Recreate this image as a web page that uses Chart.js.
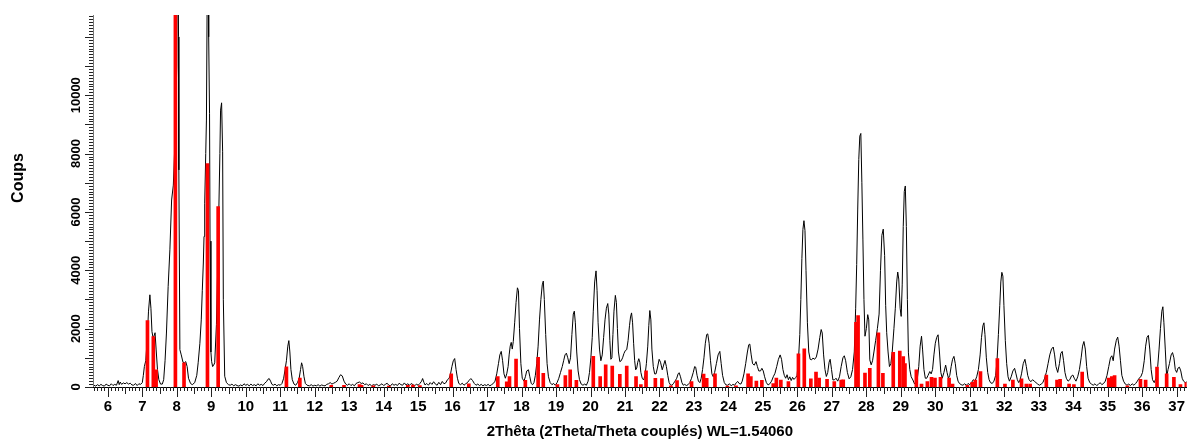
<!DOCTYPE html>
<html>
<head>
<meta charset="utf-8">
<script src="https://cdn.jsdelivr.net/npm/chart.js@4.4.0/dist/chart.umd.min.js"></script>
<style>
  html, body { margin: 0; padding: 0; background: #fff; }
  #wrap { width: 1188px; height: 443px; }
</style>
</head>
<body>
<div id="wrap"><canvas id="xrd"></canvas></div>
<script>
// measured pattern: [2theta, counts]
const traceData = [
  [5.60,60],[5.65,30],[5.70,80],[5.75,40],[5.80,90],[5.85,50],[5.90,30],[5.95,100],[6.00,60],[6.05,40],
  [6.10,110],[6.15,50],[6.20,90],[6.25,60],[6.30,220],[6.33,80],[6.36,170],[6.40,90],[6.45,140],[6.50,110],
  [6.55,150],[6.60,100],[6.65,130],[6.70,70],[6.75,60],[6.80,120],[6.85,50],[6.90,110],[6.95,90],
  [7.00,150],[7.03,400],[7.06,700],[7.10,900],[7.14,1600],[7.18,2600],[7.22,3160],[7.25,2700],[7.28,1900],
  [7.31,1700],[7.34,1750],[7.37,1860],[7.40,1300],[7.44,600],[7.48,250],[7.53,100],[7.58,100],[7.62,250],
  [7.66,900],[7.70,1850],[7.75,3450],[7.80,4700],[7.85,6410],[7.90,6920],[7.95,8500],[8.00,11000],
  [8.03,18000],[8.05,12000],[8.06,7440],[8.09,1280],[8.13,1100],[8.18,850],[8.22,830],[8.26,870],[8.30,700],
  [8.34,300],[8.40,120],[8.45,80],[8.52,150],[8.58,400],[8.62,830],[8.67,1500],[8.71,2300],[8.74,3300],
  [8.77,4250],[8.79,5160],[8.81,6300],[8.84,8000],[8.86,9150],[8.895,16000],[8.91,18000],[8.925,12000],
  [8.95,9380],[8.965,5000],[8.99,1200],[9.01,880],[9.04,700],[9.07,750],[9.10,830],[9.15,2140],[9.20,4810],
  [9.25,8000],[9.27,9490],[9.30,9740],[9.33,8060],[9.35,2990],[9.39,370],[9.44,150],
  [9.50,80],[9.55,60],[9.60,100],[9.65,40],[9.70,80],[9.75,50],[9.80,30],[9.85,70],[9.90,40],[9.95,110],
  [10.00,60],[10.05,90],[10.10,40],[10.15,100],[10.20,50],[10.25,80],[10.30,40],[10.35,110],[10.40,60],
  [10.45,90],[10.50,50],[10.55,130],[10.60,180],[10.65,270],[10.68,290],[10.72,200],[10.76,90],[10.80,60],
  [10.85,100],[10.90,40],[10.95,80],[11.00,60],[11.05,120],[11.10,300],[11.14,590],[11.18,900],[11.22,1400],
  [11.25,1590],[11.28,1200],[11.31,600],[11.35,250],[11.40,100],[11.45,60],[11.50,150],[11.55,300],
  [11.59,600],[11.62,830],[11.65,700],[11.69,350],[11.73,120],[11.78,60],[11.85,40],[11.90,80],[11.95,30],
  [12.00,60],[12.05,40],[12.10,80],[12.15,30],[12.20,70],[12.25,50],[12.30,40],[12.35,90],[12.40,110],
  [12.45,150],[12.50,100],[12.55,130],[12.60,160],[12.65,200],[12.70,320],[12.75,420],[12.80,380],
  [12.85,200],[12.90,100],[12.95,60],[13.00,110],[13.05,50],[13.10,90],[13.15,40],[13.20,120],[13.25,150],
  [13.30,170],[13.35,120],[13.40,140],[13.45,80],[13.50,110],[13.55,50],[13.60,90],[13.65,40],[13.70,80],
  [13.75,60],[13.80,100],[13.85,40],[13.90,70],[13.95,110],[14.00,50],[14.05,90],[14.10,130],[14.15,60],
  [14.20,40],[14.25,110],[14.30,60],[14.35,90],[14.40,50],[14.45,130],[14.50,80],[14.55,60],[14.60,140],
  [14.65,70],[14.70,110],[14.75,60],[14.80,120],[14.85,80],[14.90,40],[14.95,100],[15.00,60],[15.05,120],
  [15.10,200],[15.13,290],[15.17,150],[15.20,70],[15.25,120],[15.30,60],[15.35,150],[15.40,90],[15.45,180],
  [15.50,100],[15.55,60],[15.60,160],[15.65,80],[15.70,190],[15.75,110],[15.80,140],[15.85,250],[15.90,300],
  [15.94,450],[15.98,700],[16.02,900],[16.06,975],[16.10,600],[16.14,300],[16.18,120],[16.23,80],[16.28,130],
  [16.33,60],[16.38,110],[16.43,150],[16.48,230],[16.53,290],[16.58,220],[16.63,120],[16.68,60],[16.73,100],
  [16.78,50],[16.83,90],[16.88,40],[16.93,80],[16.98,50],[17.03,90],[17.08,40],[17.13,80],[17.18,120],
  [17.23,200],[17.28,450],[17.33,800],[17.37,1100],[17.41,1220],[17.45,900],[17.49,450],[17.53,300],
  [17.57,450],[17.61,700],[17.64,1100],[17.67,1400],[17.70,1530],[17.73,1300],[17.76,1560],[17.80,2200],
  [17.84,2900],[17.88,3400],[17.91,3300],[17.94,2000],[17.98,800],[18.02,300],[18.07,200],[18.11,350],
  [18.15,550],[18.20,590],[18.24,350],[18.28,120],[18.32,80],[18.36,150],[18.40,400],[18.44,800],
  [18.48,1400],[18.52,2300],[18.56,3000],[18.60,3500],[18.63,3630],[18.66,3000],[18.70,1800],[18.74,800],
  [18.78,350],[18.83,150],[18.88,80],[18.93,120],[18.98,60],[19.03,150],[19.08,300],[19.13,500],[19.18,700],
  [19.22,900],[19.26,1100],[19.30,1160],[19.34,1000],[19.38,800],[19.42,1000],[19.46,1800],[19.50,2500],
  [19.53,2600],[19.56,2200],[19.60,1200],[19.64,550],[19.68,250],[19.73,100],[19.78,60],[19.83,100],
  [19.88,60],[19.93,200],[19.97,500],[20.01,1000],[20.05,1700],[20.08,2600],[20.12,3600],[20.16,3980],
  [20.19,3300],[20.22,2200],[20.26,1300],[20.30,900],[20.34,1100],[20.38,1700],[20.42,2300],[20.46,2700],
  [20.50,2860],[20.53,2500],[20.56,1600],[20.59,950],[20.62,1000],[20.65,1800],[20.68,2600],[20.72,3140],
  [20.75,2900],[20.78,2000],[20.81,1200],[20.85,870],[20.89,900],[20.93,1000],[20.97,1150],[21.01,1250],
  [21.05,1280],[21.09,1600],[21.13,2100],[21.16,2400],[21.19,2540],[21.22,2200],[21.25,1500],[21.28,900],
  [21.31,590],[21.34,650],[21.37,850],[21.40,970],[21.43,850],[21.46,500],[21.50,300],[21.54,240],
  [21.58,400],[21.62,800],[21.66,1400],[21.69,2100],[21.72,2620],[21.75,2300],[21.78,1300],[21.82,700],
  [21.86,450],[21.90,450],[21.94,650],[21.99,950],[22.03,850],[22.08,590],[22.12,750],[22.16,910],
  [22.20,700],[22.24,400],[22.28,150],[22.32,70],[22.36,60],[22.40,110],[22.45,200],[22.50,300],[22.54,450],
  [22.57,490],[22.61,350],[22.65,150],[22.69,60],[22.73,90],[22.78,50],[22.83,80],[22.88,150],[22.93,300],
  [22.98,500],[23.02,700],[23.05,680],[23.09,400],[23.13,200],[23.17,150],[23.21,300],[23.25,600],
  [23.29,1000],[23.33,1500],[23.37,1800],[23.40,1820],[23.44,1500],[23.48,900],[23.52,450],[23.56,350],
  [23.60,500],[23.65,800],[23.70,1100],[23.75,1220],[23.79,800],[23.83,400],[23.88,150],[23.93,70],
  [23.98,60],[24.03,110],[24.08,40],[24.13,90],[24.18,60],[24.23,150],[24.27,190],[24.31,120],[24.36,100],
  [24.40,200],[24.45,450],[24.50,800],[24.55,1200],[24.59,1450],[24.62,1470],[24.66,1100],[24.70,800],
  [24.75,750],[24.80,870],[24.84,700],[24.88,550],[24.93,550],[24.97,640],[25.01,550],[25.05,350],
  [25.10,150],[25.15,70],[25.20,110],[25.25,200],[25.30,350],[25.35,470],[25.40,700],[25.45,950],
  [25.50,1100],[25.54,950],[25.58,600],[25.62,400],[25.66,300],[25.70,420],[25.74,250],[25.78,350],
  [25.82,220],[25.86,330],[25.90,260],[25.95,320],[25.99,400],[26.03,900],[26.07,1800],[26.10,3000],
  [26.13,4400],[26.16,5400],[26.19,5700],[26.22,5360],[26.25,4000],[26.29,2200],[26.33,1200],[26.37,950],
  [26.41,930],[26.45,990],[26.50,950],[26.55,1030],[26.60,1300],[26.65,1700],[26.69,1970],[26.72,1850],
  [26.76,1100],[26.80,600],[26.84,360],[26.88,500],[26.92,850],[26.95,950],[26.99,600],[27.03,240],
  [27.08,250],[27.12,300],[27.17,200],[27.22,350],[27.27,700],[27.32,1000],[27.36,1070],[27.40,900],
  [27.45,500],[27.50,280],[27.55,350],[27.60,600],[27.65,1200],[27.69,2700],[27.72,4200],[27.75,6100],
  [27.78,7800],[27.81,8600],[27.84,8690],[27.87,7000],[27.90,5070],[27.93,3000],[27.96,1740],[28.00,2000],
  [28.04,2480],[28.07,2300],[28.10,930],[28.14,760],[28.18,900],[28.22,1200],[28.27,1600],[28.32,2000],
  [28.37,2500],[28.41,4000],[28.45,5200],[28.49,5410],[28.53,4500],[28.56,2800],[28.59,1860],[28.63,1200],
  [28.67,700],[28.71,800],[28.75,1200],[28.80,2000],[28.84,2700],[28.88,3600],[28.91,3940],[28.94,3700],
  [28.98,2700],[29.01,2420],[29.04,3500],[29.07,5500],[29.10,6700],[29.13,6890],[29.16,5500],[29.19,3000],
  [29.22,1170],[29.26,600],[29.30,350],[29.35,240],[29.40,100],[29.44,150],[29.48,300],[29.52,700],
  [29.56,1400],[29.60,1740],[29.63,1300],[29.67,600],[29.71,300],[29.75,300],[29.79,400],[29.84,530],
  [29.88,450],[29.92,600],[29.96,1100],[30.00,1500],[30.04,1700],[30.08,1790],[30.12,1200],[30.16,500],
  [30.20,300],[30.25,500],[30.30,750],[30.34,500],[30.38,300],[30.42,400],[30.46,700],[30.50,950],
  [30.54,1050],[30.58,800],[30.62,400],[30.66,200],[30.70,120],[30.75,80],[30.80,60],[30.85,110],
  [30.90,60],[30.95,120],[31.00,80],[31.05,150],[31.10,250],[31.15,200],[31.20,350],[31.25,600],
  [31.30,1100],[31.34,1700],[31.38,2100],[31.41,2200],[31.44,1800],[31.48,1000],[31.52,500],[31.56,250],
  [31.60,150],[31.65,120],[31.70,200],[31.75,400],[31.79,900],[31.83,1800],[31.87,2800],[31.90,3600],
  [31.93,3930],[31.96,3800],[31.99,2800],[32.03,1600],[32.07,800],[32.11,350],[32.15,200],[32.20,350],
  [32.25,550],[32.30,640],[32.34,450],[32.38,250],[32.42,150],[32.46,250],[32.50,450],[32.55,800],
  [32.60,950],[32.64,700],[32.68,400],[32.72,250],[32.77,180],[32.82,250],[32.87,200],[32.92,150],
  [32.97,100],[33.02,60],[33.07,100],[33.12,150],[33.17,300],[33.22,500],[33.27,800],[33.32,1100],
  [33.37,1300],[33.42,1370],[33.46,1100],[33.50,700],[33.55,500],[33.60,800],[33.64,1150],[33.68,1220],
  [33.72,900],[33.76,500],[33.80,300],[33.85,200],[33.90,250],[33.95,380],[33.99,410],[34.03,300],
  [34.08,200],[34.13,350],[34.18,600],[34.23,1000],[34.27,1400],[34.31,1560],[34.35,1300],[34.39,700],
  [34.43,300],[34.48,150],[34.53,100],[34.58,60],[34.63,110],[34.68,50],[34.73,90],[34.78,150],[34.83,80],
  [34.88,120],[34.93,200],[34.98,400],[35.03,700],[35.08,1000],[35.12,1070],[35.16,900],[35.20,1300],
  [35.25,1600],[35.29,1710],[35.33,1400],[35.37,900],[35.41,400],[35.46,200],[35.51,100],[35.56,60],
  [35.61,100],[35.66,50],[35.71,110],[35.76,60],[35.81,120],[35.86,200],[35.91,300],[35.96,350],
  [36.01,500],[36.06,900],[36.10,1400],[36.14,1700],[36.18,1770],[36.22,1300],[36.26,600],[36.30,250],
  [36.35,150],[36.40,300],[36.45,700],[36.49,1300],[36.53,2000],[36.57,2600],[36.60,2750],[36.63,2200],
  [36.67,1300],[36.71,350],[36.75,600],[36.79,800],[36.84,1100],[36.88,1180],[36.92,1000],[36.96,600],
  [37.00,500],[37.04,650],[37.08,680],[37.12,550],[37.16,300],[37.20,200],[37.25,150],[37.30,180]
];

// reference stick pattern: [2theta, counts]
const stickData = [
  [7.15,2280],[7.32,1730],[7.40,590],[7.96,20000],[8.21,830],[8.89,7660],[9.20,6180],[11.18,690],
  [11.57,310],[12.48,60],[12.85,60],[13.30,80],[13.36,60],[13.70,40],[14.15,30],[14.70,60],[14.85,70],
  [15.05,50],[15.96,450],[16.47,110],[17.31,360],[17.57,180],[17.65,360],[17.84,960],[18.11,230],
  [18.48,1020],[18.63,470],[19.04,80],[19.27,390],[19.41,590],[19.59,230],[20.08,1050],[20.28,360],
  [20.44,760],[20.63,720],[20.85,430],[21.05,720],[21.32,360],[21.46,80],[21.61,550],[21.88,300],
  [22.07,290],[22.33,40],[22.51,220],[22.93,190],[23.28,440],[23.37,300],[23.61,450],[23.97,30],
  [24.22,40],[24.57,450],[24.65,360],[24.81,200],[24.97,230],[25.30,120],[25.39,310],[25.52,240],
  [25.74,190],[26.03,1140],[26.20,1310],[26.39,280],[26.54,510],[26.63,310],[26.86,260],[27.07,190],
  [27.27,240],[27.33,250],[27.70,2220],[27.76,2450],[27.96,480],[28.10,640],[28.35,1860],[28.48,470],
  [28.78,1190],[28.97,1230],[29.07,1040],[29.12,800],[29.45,590],[29.60,100],[29.77,190],[29.89,330],
  [29.99,310],[30.15,330],[30.40,310],[30.50,100],[30.93,60],[31.07,160],[31.16,240],[31.31,530],
  [31.80,970],[32.02,100],[32.25,240],[32.50,280],[32.64,100],[32.75,100],[33.22,410],[33.53,240],
  [33.62,260],[33.88,100],[34.02,80],[34.26,510],[35.03,310],[35.12,360],[35.20,390],[35.57,40],
  [35.95,260],[36.10,240],[36.43,680],[36.71,450],[36.92,330],[37.11,80],[37.28,150]
];

const yTickValues = [0, 2000, 4000, 6000, 8000, 10000];
const xTitle = '2Thêta (2Theta/Theta couplés) WL=1.54060';
const yTitle = 'Coups';
const xMin = 5.57, xMax = 37.29, yMax = 12750;

const FONT = '"Liberation Sans", Arial, sans-serif';

// minor/major ticks, rotated y labels and the y title
const axisDecor = {
    id: 'axisDecor',
    afterDraw(chart) {
        const { ctx, chartArea, scales: { x, y } } = chart;
        ctx.save();
        ctx.strokeStyle = '#222';
        ctx.lineWidth = 1;
        ctx.beginPath();
        for (let i = Math.ceil(xMin * 10); i <= Math.floor(xMax * 10); i++) {
            const px = Math.round(x.getPixelForValue(i / 10)) + 0.5;
            const len = i % 10 === 0 ? 10 : (i % 5 === 0 ? 7 : 4);
            ctx.moveTo(px, chartArea.bottom);
            ctx.lineTo(px, chartArea.bottom + len);
        }
        for (let v = 0; v <= yMax; v += 100) {
            const py = Math.round(y.getPixelForValue(v)) + 0.5;
            const len = v % 1000 === 0 ? 8 : 4;
            ctx.moveTo(chartArea.left, py);
            ctx.lineTo(chartArea.left - len, py);
        }
        ctx.stroke();

        ctx.strokeStyle = '#777';
        ctx.beginPath();
        ctx.moveTo(chartArea.left + 0.5, chartArea.top);
        ctx.lineTo(chartArea.left + 0.5, chartArea.bottom);
        ctx.stroke();

        ctx.fillStyle = '#000';
        ctx.textAlign = 'center';
        ctx.textBaseline = 'middle';
        ctx.font = 'bold 13px ' + FONT;
        yTickValues.forEach(v => {
            ctx.save();
            ctx.translate(76, y.getPixelForValue(v));
            ctx.rotate(-Math.PI / 2);
            ctx.fillText(String(v), 0, 0);
            ctx.restore();
        });

        ctx.font = 'bold 16px ' + FONT;
        ctx.translate(19, 178);
        ctx.rotate(-Math.PI / 2);
        ctx.fillText(yTitle, 0, 0);
        ctx.restore();
    }
};

new Chart(document.getElementById('xrd'), {
    type: 'bar',
    data: {
        datasets: [
            {
                type: 'bar',
                label: 'Sticks',
                data: stickData.map(p => ({ x: p[0], y: p[1] })),
                backgroundColor: '#ff0000',
                barThickness: 3,
                order: 0,
            },
            {
                type: 'line',
                label: 'Trace',
                data: traceData.map(p => ({ x: p[0], y: p[1] })),
                borderColor: '#000',
                borderWidth: 1,
                pointRadius: 0,
                tension: 0,
                fill: false,
                order: 1,
            },
        ],
    },
    options: {
        responsive: true,
        maintainAspectRatio: false,
        animation: false,
        layout: { padding: { left: 93, top: 15, right: 0, bottom: 0 } },
        plugins: { legend: { display: false }, tooltip: { enabled: false } },
        scales: {
            x: {
                type: 'linear',
                offset: false,
                min: xMin,
                max: xMax,
                grid: { display: false, drawTicks: true, tickLength: 8 },
                border: { display: true, color: '#000', width: 1 },
                ticks: {
                    stepSize: 1,
                    includeBounds: false,
                    autoSkip: false,
                    maxRotation: 0,
                    padding: 3,
                    color: '#000',
                    font: { family: FONT, size: 15, weight: 'bold' },
                },
                title: {
                    display: true,
                    text: xTitle,
                    color: '#000',
                    padding: { top: 0, bottom: 2 },
                    font: { family: FONT, size: 15, weight: 'bold' },
                },
                afterFit: scale => { scale.height = 56; },
            },
            y: {
                display: false,
                min: 0,
                max: yMax,
            },
        },
    },
    plugins: [axisDecor],
});
</script>
</body>
</html>
